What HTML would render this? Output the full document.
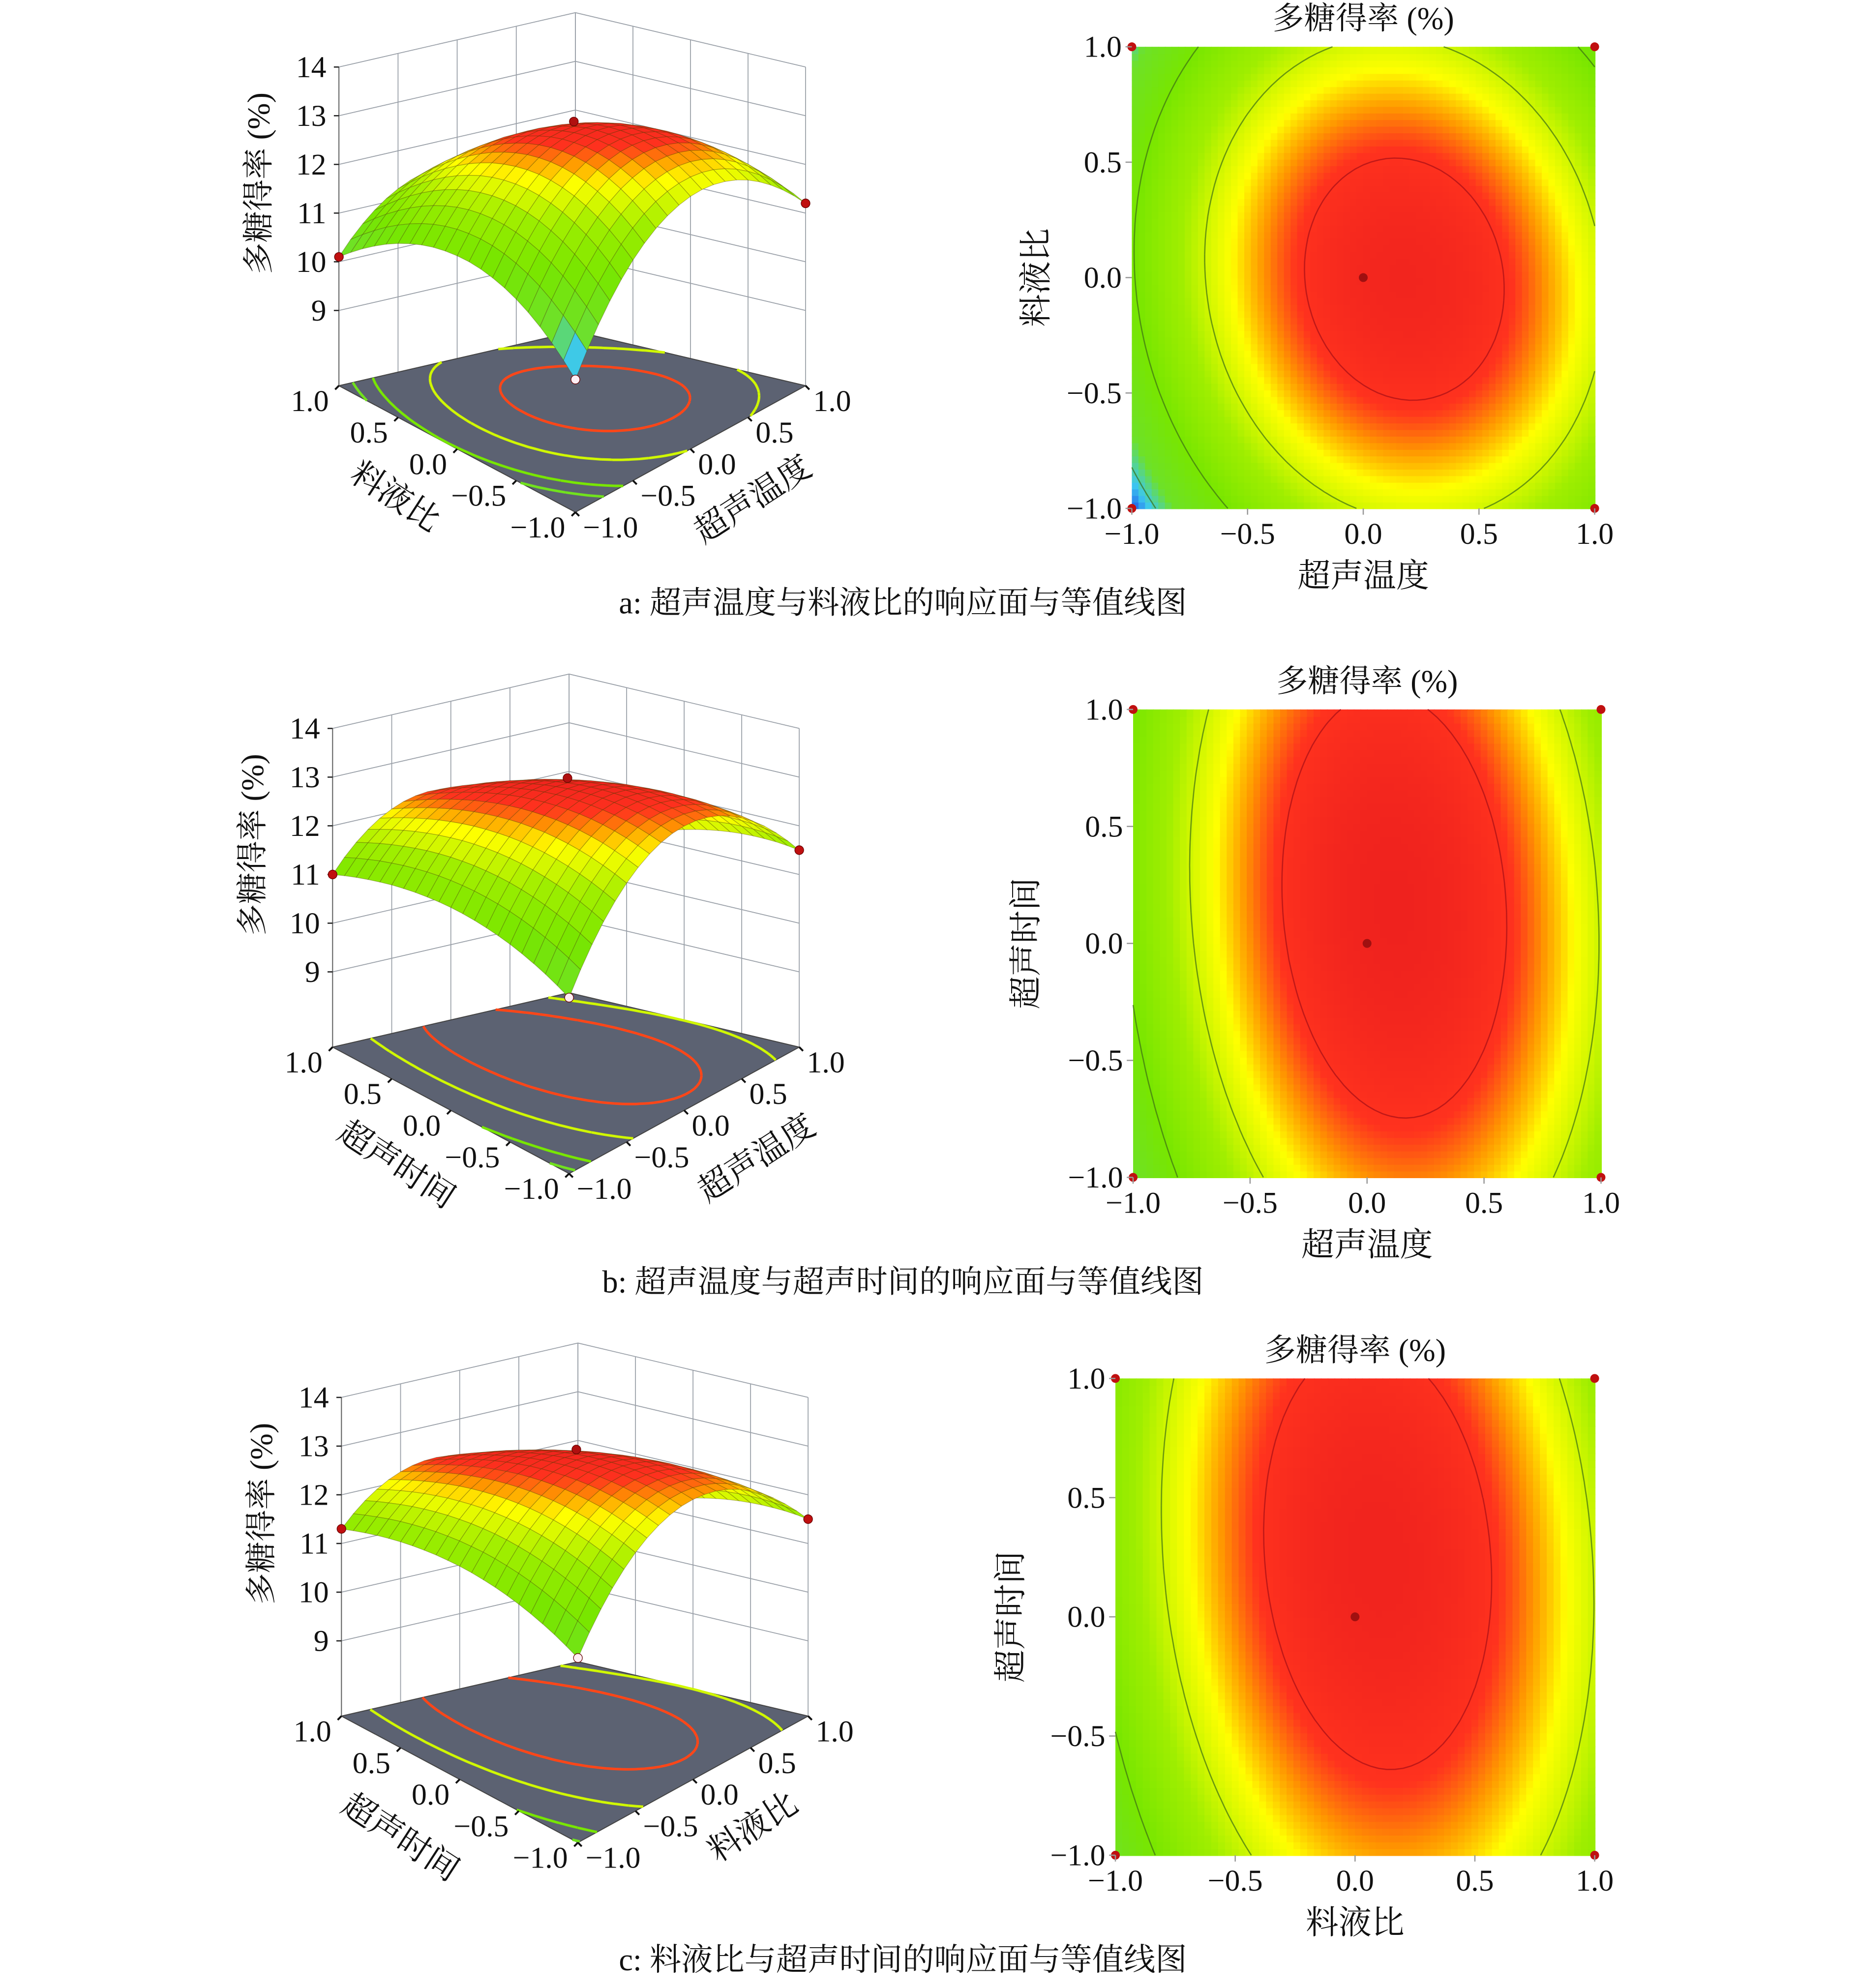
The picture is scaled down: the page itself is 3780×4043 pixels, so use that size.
<!DOCTYPE html>
<html><head><meta charset="utf-8">
<style>
html,body{margin:0;padding:0;background:#fff;}
svg{display:block;}
text{font-family:"Liberation Serif","Noto Serif CJK SC",serif;fill:#111;}
</style></head>
<body>
<svg id="fig" width="3780" height="4043" viewBox="0 0 1470 1572" preserveAspectRatio="none" xmlns="http://www.w3.org/2000/svg">
<g id="root"></g>
</svg>
<script>
// model coefficients [b0, b1(u), b2(v), b12(uv), b11(u^2), b22(v^2)]
const coefA = [13.15, 0.575, 0.025, -0.225, -1.625, -1.1];
const coefB = [13.25, 0.425, 0.175, -0.175, -1.7, -0.475];
const coefC = [13.2, 0.34, 0.24, -0.19, -1.55, -0.44];
const zTicks = [9, 10, 11, 12, 13, 14];
const axisTicks = [-1.0, -0.5, 0.0, 0.5, 1.0];
const contourLevels = [10, 11, 12, 12.9];
const floorLevels = [10.5, 11, 12, 12.8];
const captions = ["a: 超声温度与料液比的响应面与等值线图", "b: 超声温度与超声时间的响应面与等值线图", "c: 料液比与超声时间的响应面与等值线图"];
const xNames = ["超声温度", "超声温度", "料液比"];
const yNames = ["料液比", "超声时间", "超声时间"];

const NS = "http://www.w3.org/2000/svg";
const root = document.getElementById('root');
function el(tag, attrs, parent, txt){
  const e = document.createElementNS(NS, tag);
  for (const k in attrs) e.setAttribute(k, attrs[k]);
  if (txt !== undefined) e.textContent = txt;
  (parent || root).appendChild(e);
  return e;
}
function model(c, u, v){ return c[0]+c[1]*u+c[2]*v+c[3]*u*v+c[4]*u*u+c[5]*v*v; }
const stops = [[9.5,[20,40,230]],[9.9,[60,200,240]],[10.3,[110,225,40]],[11.0,[120,230,0]],[11.7,[160,238,0]],[12.3,[255,255,0]],[12.6,[255,150,0]],[12.85,[255,50,30]],[13.4,[235,30,30]]];
function col(z){
  if (z <= stops[0][0]) return 'rgb('+stops[0][1].join(',')+')';
  for (let i=1;i<stops.length;i++){
    if (z <= stops[i][0]){
      const a=stops[i-1], b=stops[i], t=(z-a[0])/(b[0]-a[0]);
      return 'rgb('+[0,1,2].map(k=>Math.round(a[1][k]+(b[1][k]-a[1][k])*t)).join(',')+')';
    }
  }
  return 'rgb('+stops[stops.length-1][1].join(',')+')';
}
function fmt(t){ return (t<0?'\u2212':'')+Math.abs(t).toFixed(1); }

function contourSegs(c, level, N){
  const segs=[]; const h=2/N;
  for (let i=0;i<N;i++) for (let j=0;j<N;j++){
    const u0=-1+i*h, v0=-1+j*h, u1=u0+h, v1=v0+h;
    const p=[[u0,v0],[u1,v0],[u1,v1],[u0,v1]];
    const z=p.map(q=>model(c,q[0],q[1])-level);
    const pts=[];
    for (let k=0;k<4;k++){
      const a=k, b=(k+1)%4;
      if ((z[a]<0)!==(z[b]<0)){
        const t=z[a]/(z[a]-z[b]);
        pts.push([p[a][0]+(p[b][0]-p[a][0])*t, p[a][1]+(p[b][1]-p[a][1])*t]);
      }
    }
    if (pts.length===2) segs.push(pts);
    if (pts.length===4){ segs.push([pts[0],pts[1]]); segs.push([pts[2],pts[3]]); }
  }
  return segs;
}

function surface3d(idx, c, dx, dy, leftName, rightName, lnPos, rnPos){
  const g = el('g', {}, root);
  
  
  const L=[268+dx,305+dy], F=[455+dx,405+dy], R=[637+dx,305+dy], B=[455+dx,262+dy];
  const zs=38.5, zf=14-252/zs;
  function P(u,v){
    const s=(u+1)/2, t=(v+1)/2;
    return [F[0]*(1-s)*(1-t)+R[0]*s*(1-t)+L[0]*(1-s)*t+B[0]*s*t,
            F[1]*(1-s)*(1-t)+R[1]*s*(1-t)+L[1]*(1-s)*t+B[1]*s*t];
  }
  function S(u,v,z){ const p=P(u,v); const f=1-0.135*(u+v); return [p[0], p[1]-(z-zf)*zs*f]; }
  function W(u,v,z){ const p=P(u,v); return [p[0], p[1]-(z-zf)*zs]; }
  const wall = el('g', {stroke:'#9aa0a8','stroke-width':0.7, fill:'none'}, g);
  
  
  zTicks.forEach(z=>{
    const a=W(-1,1,z), b=W(1,1,z), d=W(1,-1,z);
    el('polyline',{points:[a,b,d].map(q=>q.join(',')).join(' ')}, wall);
  });
  axisTicks.forEach(t=>{
    const a=W(t,1,zf), b=W(t,1,14); el('line',{x1:a[0],y1:a[1],x2:b[0],y2:b[1]}, wall);
    const e=W(1,t,zf), f=W(1,t,14); el('line',{x1:e[0],y1:e[1],x2:f[0],y2:f[1]}, wall);
  });
  const za=W(-1,1,zf), zb=W(-1,1,14);
  el('line',{x1:za[0],y1:za[1],x2:zb[0],y2:zb[1],stroke:'#666','stroke-width':0.8}, g);
  zTicks.forEach(z=>{
    const p=W(-1,1,z);
    el('line',{x1:p[0]-4,y1:p[1],x2:p[0],y2:p[1],stroke:'#222','stroke-width':1}, g);
    const t=el('text',{x:p[0]-10,y:p[1]+8,'font-size':24,'text-anchor':'end'}, g, String(z));
     
  });
  const zl=el('text',{x:0,y:0,'font-size':25,'text-anchor':'middle',transform:'translate('+(213+dx)+','+(145+dy)+') rotate(-90)'}, g, '多糖得率 (%)');
   
  const fl=el('polygon',{points:[L,F,R,B].map(q=>q.join(',')).join(' '),fill:'#5c6272',stroke:'#444','stroke-width':0.8}, g);
   
  floorLevels.forEach(lv=>{
    let d='';
    contourSegs(c, lv, 50).forEach(s=>{ const a=P(s[0][0],s[0][1]), b=P(s[1][0],s[1][1]); d+='M'+a[0].toFixed(1)+','+a[1].toFixed(1)+'L'+b[0].toFixed(1)+','+b[1].toFixed(1); });
    const pth=el('path',{d:d,stroke:col(lv),'stroke-width':2,fill:'none'}, g);
     
  });
  const N=20, h=2/N, quads=[];
  for (let i=0;i<N;i++) for (let j=0;j<N;j++){
    const u0=-1+i*h, v0=-1+j*h;
    quads.push([u0,v0,u0+h,v0+h]);
  }
  quads.sort((a,b)=>(b[0]+b[1])-(a[0]+a[1]));
  const sg=el('g',{}, g);
   
  quads.forEach(q=>{
    const pts=[[q[0],q[1]],[q[2],q[1]],[q[2],q[3]],[q[0],q[3]]].map(p=>S(p[0],p[1],model(c,p[0],p[1])));
    const zc=model(c,(q[0]+q[2])/2,(q[1]+q[3])/2);
    el('polygon',{points:pts.map(p=>p[0].toFixed(1)+','+p[1].toFixed(1)).join(' '),fill:col(zc),stroke:'rgba(70,60,0,0.35)','stroke-width':0.5}, sg);
  });
  [[0,0],[-1,1],[1,-1],[-1,-1]].forEach((p,k)=>{
    const s=S(p[0],p[1],model(c,p[0],p[1])+(k===0?0.1:0));
    const dt=el('circle',{cx:s[0],cy:s[1],r:3.5,fill:k===0?'#b01010':(k===3?'#ffeef4':'#c01010'),stroke:'#600','stroke-width':0.5}, g);
     
  });
  axisTicks.forEach(t=>{
    const a=P(-1,t);
    el('line',{x1:a[0],y1:a[1],x2:a[0]-3,y2:a[1]+3,stroke:'#111','stroke-width':1.5}, g);
    const tl=el('text',{x:a[0]-8,y:a[1]+20,'font-size':24,'text-anchor':'end'}, g, fmt(t));
     
    const b=P(t,-1);
    el('line',{x1:b[0],y1:b[1],x2:b[0]+3,y2:b[1]+3,stroke:'#111','stroke-width':1.5}, g);
    const tr=el('text',{x:b[0]+6,y:b[1]+20,'font-size':24,'text-anchor':'start'}, g, fmt(t));
     
  });
  const ln=el('text',{x:0,y:0,'font-size':26,'text-anchor':'middle',transform:'translate('+(lnPos[0]+dx)+','+(lnPos[1]+dy)+') rotate(33)'}, g, leftName);
   
  const rn=el('text',{x:0,y:0,'font-size':26,'text-anchor':'middle',transform:'translate('+(rnPos[0]+dx)+','+(rnPos[1]+dy)+') rotate(-33)'}, g, rightName);
   
}

function contour2d(idx, c, x0, x1, y1, y0, title, xl, yl, ylx){
  const g=el('g',{}, root);
  
  
  const X=u=>x0+(u+1)/2*(x1-x0), Y=v=>y0-(v+1)/2*(y0-y1);
  const N=70, h=2/N, cw=(x1-x0)/N, ch=(y0-y1)/N;
  const hg=el('g',{}, g);
   
  for (let i=0;i<N;i++) for (let j=0;j<N;j++){
    const u=-1+(i+0.5)*h, v=-1+(j+0.5)*h;
    el('rect',{x:(x0+i*cw).toFixed(2),y:(y0-(j+1)*ch).toFixed(2),width:(cw+0.6).toFixed(2),height:(ch+0.6).toFixed(2),fill:col(model(c,u,v))}, hg);
  }
  contourLevels.forEach(lv=>{
    let d='';
    contourSegs(c, lv, 60).forEach(s=>{ d+='M'+X(s[0][0]).toFixed(1)+','+Y(s[0][1]).toFixed(1)+'L'+X(s[1][0]).toFixed(1)+','+Y(s[1][1]).toFixed(1); });
    const p=el('path',{d:d,stroke:lv>12.5?'#c01818':'rgba(60,110,20,0.7)','stroke-width':1,fill:'none'}, g);
     
  });
  [[-1,-1],[-1,1],[1,-1],[1,1]].forEach(p=>{
    const d=el('circle',{cx:X(p[0]),cy:Y(p[1]),r:3.5,fill:'#c01010'}, g);
     
  });
  const cd=el('circle',{cx:X(0),cy:Y(0),r:3.5,fill:'#a01010'}, g);
   
  axisTicks.forEach(t=>{
    el('line',{x1:X(t),y1:y0,x2:X(t),y2:y0+5,stroke:'#999','stroke-width':1}, g);
    const tx=el('text',{x:X(t),y:y0+28,'font-size':24,'text-anchor':'middle'}, g, fmt(t));
     
    el('line',{x1:x0-5,y1:Y(t),x2:x0,y2:Y(t),stroke:'#999','stroke-width':1}, g);
    const ty=el('text',{x:x0-8,y:Y(t)+8,'font-size':24,'text-anchor':'end'}, g, fmt(t));
     
  });
  const tt=el('text',{x:(x0+x1)/2,y:y1-14,'font-size':25,'text-anchor':'middle'}, g, title);
   
  const xt=el('text',{x:(x0+x1)/2,y:y0+62,'font-size':26,'text-anchor':'middle'}, g, xl);
   
  const yt=el('text',{x:0,y:0,'font-size':26,'text-anchor':'middle',transform:'translate('+ylx+','+((y0+y1)/2)+') rotate(-90)'}, g, yl);
   
}

surface3d(0, coefA, 0, 0, yNames[0], xNames[0], [308,400], [600,402]);
surface3d(1, coefB, -5, 523, yNames[1], xNames[1], [314,405], [608,400]);
surface3d(2, coefC, 2, 1052, yNames[2], xNames[2], [310,408], [598,400]);
contour2d(0, coefA, 895, 1261, 37, 402, '多糖得率 (%)', xNames[0], yNames[0], 828);
contour2d(1, coefB, 896, 1266, 561, 931, '多糖得率 (%)', xNames[1], yNames[1], 820);
contour2d(2, coefC, 882, 1261, 1090, 1467, '多糖得率 (%)', xNames[2], yNames[2], 808);
[485, 1022, 1558].forEach((y,i)=>{
  const t=el('text',{x:714,y:y,'font-size':25,'text-anchor':'middle'}, root, captions[i]);
   
});
</script>
</body></html>
